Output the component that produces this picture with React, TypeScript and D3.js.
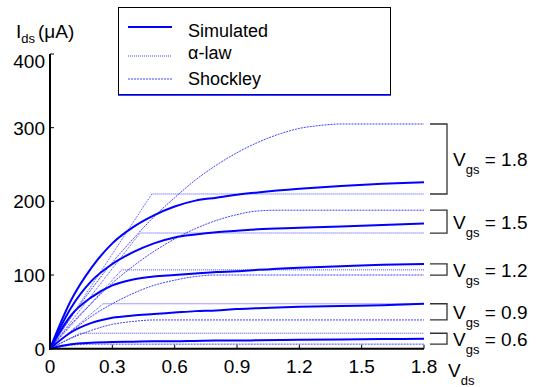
import React from "react";
import * as d3 from "d3";

const W = 539;
const H = 387;

const vgsLabels = ["0.6", "0.9", "1.2", "1.5", "1.8"];

// Simulated (thick solid)
const simX = [0, 0.1, 0.2, 0.3, 0.4, 0.5, 0.6, 0.7, 0.8, 0.9, 1.0, 1.2, 1.4, 1.6, 1.8];
const sim06 = [0, 6, 8, 9, 9.5, 10, 10, 10.5, 11, 11, 11.5, 12, 12.5, 13, 13.5];
const sim09 = [0, 22, 35, 42, 45, 47, 49, 51, 52, 54, 55, 57, 58, 59, 61];
const sim12 = [0, 45, 70, 86, 94, 98, 100, 102, 104, 105, 107, 110, 112, 114, 115];
const sim15 = [0, 55, 92, 115, 131, 143, 151, 155, 158, 160, 162, 164, 166, 168, 170];
const sim18 = [0, 65, 110, 143, 165, 181, 193, 201, 205, 209, 212, 217, 221, 224, 226];

// alpha-law (linear rise then flat)
const alphaKnee = [0.144, 0.255, 0.345, 0.433, 0.49];
const alphaSat = [21, 61, 107, 157, 210];

// Shockley (parabolic rise then flat)
const shock06X = [0, 0.05, 0.1, 0.15, 0.2, 1.8];
const shock06 = [0, 2.7, 4.7, 5.8, 6.2, 6.2];
const shock09X = [0, 0.1, 0.2, 0.3, 0.4, 0.5, 1.8];
const shock09 = [0, 14, 25, 33, 37, 39, 39];
const shock12X = [0, 0.1, 0.2, 0.3, 0.4, 0.5, 0.6, 0.7, 0.8, 1.8];
const shock12 = [0, 23, 44, 61, 75, 86, 93, 98, 100, 100];
const shock15X = [0, 0.1, 0.2, 0.3, 0.4, 0.5, 0.6, 0.7, 0.8, 0.9, 1.0, 1.1, 1.8];
const shock15 = [0, 33, 62, 89, 112, 132, 149, 163, 174, 182, 187, 188, 188];
const shock18X = [0, 0.1, 0.2, 0.3, 0.4, 0.5, 0.6, 0.7, 0.8, 0.9, 1.0, 1.1, 1.2, 1.3, 1.4, 1.8];
const shock18 = [0, 42, 81, 117, 149, 179, 205, 229, 249, 266, 280, 291, 299, 303, 305, 305];

const xTicks = [0, 0.3, 0.6, 0.9, 1.2, 1.5, 1.8];
const yTicks = [0, 100, 200, 300, 400];
const legendLabels = ["Simulated", "\u03b1-law", "Shockley"];

const FONT = "'Liberation Sans', Arial, Helvetica, sans-serif";
const BLUE = "#0000ff";

export default function App() {
  const x = d3.scaleLinear().domain([0, 1.8]).range([50, 424]);
  const y = d3.scaleLinear().domain([0, 400]).range([348.7, 54]);
  const line = d3
    .line<[number, number]>()
    .x((d) => x(d[0]))
    .y((d) => y(d[1]));
  const smooth = d3
    .line<[number, number]>()
    .x((d) => x(d[0]))
    .y((d) => y(d[1]))
    .curve(d3.curveMonotoneX);

  const zip = (xs: number[], ys: number[]) => xs.map((v, i) => [v, ys[i]] as [number, number]);

  const sims = [sim06, sim09, sim12, sim15, sim18].map((s) => zip(simX, s));
  const alphas = alphaKnee.map((k, i) =>
    zip([0, k, 1.8], [0, alphaSat[i], alphaSat[i]])
  );
  const shocks = [
    zip(shock06X, shock06),
    zip(shock09X, shock09),
    zip(shock12X, shock12),
    zip(shock15X, shock15),
    zip(shock18X, shock18),
  ];

  const brackets = vgsLabels.map((lab, i) => {
    const ends = [
      sims[i][sims[i].length - 1][1],
      alphas[i][alphas[i].length - 1][1],
      shocks[i][shocks[i].length - 1][1],
    ];
    const top = y(d3.max(ends) as number);
    const bot = y(d3.min(ends) as number);
    return { lab, top, bot };
  });

  const x0 = x(1.8) + 6;
  const x1 = x(1.8) + 23;

  return (
    <svg
      width={W}
      height={H}
      style={{ position: "absolute", left: 0, top: 0, background: "#fff" }}
      fontFamily={FONT}
    >
      <rect x={0} y={0} width={W} height={H} fill="#fff" />

      {/* Shockley */}
      {shocks.map((d, i) => (
        <path
          key={"sh" + i}
          d={smooth(d) || ""}
          fill="none"
          stroke={BLUE}
          strokeWidth={1}
          strokeDasharray="2,1"
          strokeOpacity={0.75}
        />
      ))}
      {/* alpha-law */}
      {alphas.map((d, i) => (
        <path
          key={"al" + i}
          d={line(d) || ""}
          fill="none"
          stroke={BLUE}
          strokeWidth={1}
          strokeDasharray="1,1"
          strokeOpacity={0.75}
        />
      ))}
      {/* Simulated */}
      {sims.map((d, i) => (
        <path
          key={"si" + i}
          d={smooth(d) || ""}
          fill="none"
          stroke={BLUE}
          strokeWidth={2}
          strokeLinejoin="round"
        />
      ))}

      {/* axes */}
      <line x1={x(0)} x2={x(0)} y1={y(400)} y2={y(0) + 1} stroke="#000" strokeWidth={2} />
      <line x1={x(0) - 1} x2={x(1.8)} y1={y(0)} y2={y(0)} stroke="#000" strokeWidth={2} />
      {yTicks.map((t) => (
        <g key={"yt" + t}>
          <line x1={x(0)} x2={x(0) + 4} y1={y(t)} y2={y(t)} stroke="#000" strokeWidth={1} />
          <text
            x={45}
            y={Math.max(y(t), y(400) + 7) + 7}
            textAnchor="end"
            fontSize={19}
          >
            {t}
          </text>
        </g>
      ))}
      {xTicks.map((t) => (
        <g key={"xt" + t}>
          <line x1={x(t)} x2={x(t)} y1={y(0)} y2={y(0) - 4} stroke="#000" strokeWidth={1} />
          <text x={x(t)} y={372.5} textAnchor="middle" fontSize={19}>
            {t}
          </text>
        </g>
      ))}

      {/* axis titles */}
      <text x={16} y={38.3} fontSize={19}>
        I<tspan fontSize={13} dy={5}>ds</tspan>
        <tspan dy={-5} dx={3}>{"(\u03bcA)"}</tspan>
      </text>
      <text x={448} y={377} fontSize={19}>
        V<tspan fontSize={13} dy={8}>ds</tspan>
      </text>

      {/* brackets */}
      {brackets.map((b) => (
        <g key={"br" + b.lab}>
          <path
            d={`M${x0},${b.top}H${x1}V${b.bot}H${x0}`}
            fill="none"
            stroke="#333"
            strokeWidth={1.3}
          />
          <text x={453} y={(b.top + b.bot) / 2 + 7.5} fontSize={19}>
            V<tspan fontSize={13} dy={8}>gs</tspan>
            <tspan dy={-8}>{" = " + b.lab}</tspan>
          </text>
        </g>
      ))}

      {/* legend */}
      <rect x={118.5} y={7.5} width={272} height={87} fill="#fff" stroke="#000" strokeWidth={1} />
      <line x1={118} x2={391} y1={95} y2={95} stroke={BLUE} strokeWidth={1.5} />
      {legendLabels.map((lab, i) => {
        const ly = [27, 56, 79][i];
        return (
          <g key={"lg" + i}>
            <line
              x1={128}
              x2={172}
              y1={ly}
              y2={ly}
              stroke={BLUE}
              strokeWidth={i === 0 ? 2 : 1}
              strokeDasharray={i === 0 ? undefined : i === 1 ? "1,1" : "2,1"}
              strokeOpacity={i === 0 ? 1 : 0.75}
            />
            <text x={188} y={[36.5, 59, 85][i]} fontSize={18}>
              {lab}
            </text>
          </g>
        );
      })}
    </svg>
  );
}
